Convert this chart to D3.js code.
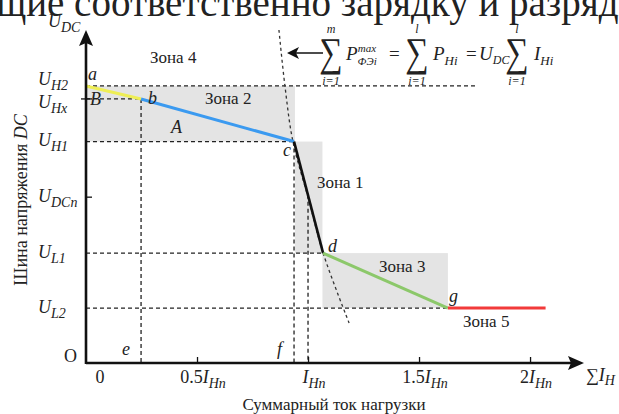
<!DOCTYPE html>
<html>
<head>
<meta charset="utf-8">
<script src="https://cdn.jsdelivr.net/npm/d3@7"></script>
<style>
  body { margin: 0; background: #fff; }
  text { font-family: "Liberation Serif", "Times New Roman", serif; fill: #222; }
  .it { font-style: italic; }
</style>
</head>
<body>
<div id="chart-area"></div>
<script>
// data (current in units of I_Hn, voltage normalised to the top of the axis)
var xTickVals = [0, 0.5, 1, 1.5, 2];
var xTickLabels = [["0", ""], ["0.5I", "Hn"], ["I", "Hn"], ["1.5I", "Hn"], ["2I", "Hn"]];
var yNames = ["H2", "Hx", "H1", "DCn", "L1", "L2"];
var yVals = [0.832, 0.793, 0.665, 0.498, 0.330, 0.165];

// characteristic points a, b, c, d, g, end
var ptNames = ["a", "b", "c", "d", "g", ""];
var ptI = [0, 0.248, 0.937, 1.068, 1.63, 2.07];
var ptU = [0.832, 0.793, 0.665, 0.330, 0.165, 0.165];
var segColors = ["#eeee55", "#3b9af0", "#111111", "#8cc86a", "#f23a3a"];

// constant power curve (dashed)
var powI = [0.869, 0.896, 0.932, 1.0, 1.068, 1.185];
var powU = [1.0, 0.832, 0.665, 0.498, 0.330, 0.12];

// zones [I0, I1, U0, U1]
var zones = [[0, 0.941, 0.665, 0.832], [0.941, 1.065, 0.330, 0.665], [1.065, 1.63, 0.165, 0.330]];

var margin = { top: 30, left: 86 };
var width = 498, height = 333;

var svg = d3.select("#chart-area").append("svg")
  .attr("width", 619).attr("height", 414);

var g = svg.append("g")
  .attr("transform", `translate(${margin.left}, ${margin.top})`);

var x = d3.scaleLinear().domain([0, 2.243]).range([0, width]);
var y = d3.scaleLinear().domain([0, 1]).range([height, 0]);

// grey zones
g.selectAll(".zone").data(zones).enter().append("rect")
  .attr("class", "zone")
  .attr("x", d => x(d[0]))
  .attr("y", d => y(d[3]))
  .attr("width", d => x(d[1]) - x(d[0]))
  .attr("height", d => y(d[2]) - y(d[3]))
  .attr("fill", "#e4e4e4");

var dash = "4,3";
function dline(x1, y1, x2, y2) {
  g.append("line")
    .attr("x1", x1).attr("y1", y1).attr("x2", x2).attr("y2", y2)
    .attr("stroke", "#222").attr("stroke-width", 1.3)
    .attr("stroke-dasharray", dash);
}
// horizontal guides
dline(x(0), y(yVals[0]), x(1.752), y(yVals[0]));
dline(x(0), y(ptU[1]), x(ptI[1]), y(ptU[1]));
dline(x(0), y(ptU[2]), x(ptI[2]), y(ptU[2]));
dline(x(0), y(ptU[3]), x(ptI[3]), y(ptU[3]));
dline(x(0), y(ptU[4]), x(ptI[4]), y(ptU[4]));
// vertical guides
dline(x(ptI[1]), y(ptU[1]), x(ptI[1]), y(0));
dline(x(ptI[2]), y(ptU[2]), x(ptI[2]), y(0));
dline(x(1), y(0.505), x(1), y(0));

// power curve
var powPts = powI.map((d, i) => [d, powU[i]]);
g.append("path")
  .attr("d", d3.line().x(d => x(d[0])).y(d => y(d[1])).curve(d3.curveCatmullRom)(powPts))
  .attr("fill", "none").attr("stroke", "#333").attr("stroke-width", 1.3)
  .attr("stroke-dasharray", "3,3");

// characteristic segments
for (var i = 0; i < segColors.length; i++) {
  g.append("line")
    .attr("x1", x(ptI[i])).attr("y1", y(ptU[i]))
    .attr("x2", x(ptI[i + 1])).attr("y2", y(ptU[i + 1]))
    .attr("stroke", segColors[i])
    .attr("stroke-width", i == 2 ? 2.6 : 3);
}

// axes
var bottomAxis = d3.axisBottom(x).tickValues(xTickVals.slice(1)).tickSizeInner(-6).tickSizeOuter(0).tickFormat("");
var xAxisGroup = g.append("g").attr("transform", `translate(0, ${height})`).call(bottomAxis);
xAxisGroup.select(".domain").remove();
xAxisGroup.selectAll("line").attr("stroke", "#111").attr("stroke-width", 1.3);

g.append("line").attr("x1", 0).attr("y1", height).attr("x2", width - 10).attr("y2", height)
  .attr("stroke", "#111").attr("stroke-width", 2.6);
g.append("line").attr("x1", 0).attr("y1", height + 1).attr("x2", 0).attr("y2", 12)
  .attr("stroke", "#111").attr("stroke-width", 2.6);
g.append("path").attr("d", `M${width},${height} l-16,-7 l3,7 l-3,7 z`).attr("fill", "#111");
g.append("path").attr("d", "M0,0 l-7,16 l7,-3 l7,3 z").attr("fill", "#111");

// y ticks
g.append("line").attr("x1", -5).attr("x2", 6).attr("y1", y(yVals[1])).attr("y2", y(yVals[1]))
  .attr("stroke", "#111").attr("stroke-width", 1.3);
g.append("line").attr("x1", 0).attr("x2", 6).attr("y1", y(yVals[3])).attr("y2", y(yVals[3]))
  .attr("stroke", "#111").attr("stroke-width", 1.3);

// y tick labels
var yOff = [-1, 9, 4, 5, 5, 5];
yNames.forEach((n, i) => {
  var t = svg.append("text").attr("class", "it")
    .attr("x", 38).attr("y", margin.top + y(yVals[i]) + yOff[i])
    .attr("font-size", 18);
  t.append("tspan").text("U");
  t.append("tspan").attr("dy", 5).attr("font-size", 14).text(n);
});

// x tick labels
xTickLabels.forEach((l, i) => {
  var t = svg.append("text")
    .attr("x", margin.left + x(xTickVals[i]) + (i == 0 ? 14 : 6))
    .attr("y", 383).attr("text-anchor", "middle").attr("font-size", 18);
  var m = l[0].match(/^([0-9.]*)(I?)$/);
  t.append("tspan").text(m[1]);
  if (m[2]) {
    t.append("tspan").attr("class", "it").text("I");
    t.append("tspan").attr("class", "it").attr("dy", 5).attr("font-size", 14).text(l[1]);
  }
});

svg.append("text").attr("x", 64).attr("y", 362).attr("font-size", 18).text("O");

var sx = svg.append("text").attr("x", 586).attr("y", 381).attr("font-size", 18);
sx.append("tspan").text("∑");
sx.append("tspan").attr("class", "it").text("I");
sx.append("tspan").attr("class", "it").attr("dy", 4).attr("font-size", 14).text("H");

// U_DC axis name
var ud = svg.append("text").attr("class", "it").attr("x", 48).attr("y", 27).attr("font-size", 18);
ud.append("tspan").text("U");
ud.append("tspan").attr("dy", 5).attr("font-size", 14).text("DC");

// axis titles
svg.append("text").attr("x", 334).attr("y", 410).attr("text-anchor", "middle")
  .attr("font-size", 17).text("Суммарный ток нагрузки");
var yt = svg.append("text").attr("transform", "translate(27, 200) rotate(-90)")
  .attr("text-anchor", "middle").attr("font-size", 18);
yt.append("tspan").text("Шина напряжения ");
yt.append("tspan").attr("class", "it").text("DC");

// point letters
var ptLab = [[88, 80], [148, 104], [283, 156], [328, 252], [449, 302]];
ptLab.forEach((p, i) => {
  svg.append("text").attr("class", "it").attr("x", p[0]).attr("y", p[1])
    .attr("font-size", 18).text(ptNames[i]);
});
svg.append("text").attr("class", "it").attr("x", 90).attr("y", 105).attr("font-size", 18).text("B");
svg.append("text").attr("class", "it").attr("x", 171).attr("y", 133).attr("font-size", 18).text("A");
svg.append("text").attr("class", "it").attr("x", 122).attr("y", 355).attr("font-size", 18).text("e");
svg.append("text").attr("class", "it").attr("x", 277).attr("y", 355).attr("font-size", 18).text("f");

// zone names
var zoneNames = ["Зона 4", "Зона 2", "Зона 1", "Зона 3", "Зона 5"];
var zonePos = [[150, 63], [205, 104], [317, 188], [379, 272], [463, 327]];
zoneNames.forEach((n, i) => {
  svg.append("text").attr("x", zonePos[i][0]).attr("y", zonePos[i][1])
    .attr("font-size", 17).text(n);
});

// formula with arrow
svg.append("line").attr("x1", 296).attr("y1", 53).attr("x2", 323).attr("y2", 53)
  .attr("stroke", "#111").attr("stroke-width", 1.5);
svg.append("path").attr("d", "M287,53 l12,-6 l-3,6 l3,6 z").attr("fill", "#111");

function sigma(xp, top) {
  svg.append("text").attr("transform", `translate(${xp + 9}, 66) scale(0.8, 1)`)
    .attr("text-anchor", "middle")
    .attr("font-family", "DejaVu Serif").attr("font-size", 41).text("∑");
  svg.append("text").attr("class", "it").attr("x", xp + 9).attr("y", 33).attr("text-anchor", "middle")
    .attr("font-size", 12).text(top);
  svg.append("text").attr("class", "it").attr("x", xp + 9).attr("y", 85).attr("text-anchor", "middle")
    .attr("font-size", 12).text("i=1");
}
sigma(322, "m");
sigma(408, "l");
sigma(508, "l");

var f1 = svg.append("text").attr("class", "it").attr("x", 346).attr("y", 60).attr("font-size", 19);
f1.append("tspan").text("P");
f1.append("tspan").attr("dy", 5).attr("font-size", 11).text("ФЭi");
f1.append("tspan").attr("dx", -19).attr("dy", -13).attr("font-size", 11).text("max");
svg.append("text").attr("x", 389).attr("y", 60).attr("font-size", 19).text("=");
var f2 = svg.append("text").attr("class", "it").attr("x", 433).attr("y", 60).attr("font-size", 19);
f2.append("tspan").text("P");
f2.append("tspan").attr("dy", 5).attr("font-size", 13).text("Нi");
svg.append("text").attr("x", 466).attr("y", 60).attr("font-size", 19).text("=");
var f3 = svg.append("text").attr("class", "it").attr("x", 479).attr("y", 60).attr("font-size", 19);
f3.append("tspan").text("U");
f3.append("tspan").attr("dy", 4).attr("font-size", 12).text("DC");
var f4 = svg.append("text").attr("class", "it").attr("x", 534).attr("y", 60).attr("font-size", 19);
f4.append("tspan").text("I");
f4.append("tspan").attr("dy", 5).attr("font-size", 13).text("Нi");

// cut line of body text at top
svg.append("text").attr("x", -33).attr("y", 16).attr("font-size", 39).attr("fill", "#111")
  .text("ющие соответственно зарядку и разрядку");
</script>
</body>
</html>
